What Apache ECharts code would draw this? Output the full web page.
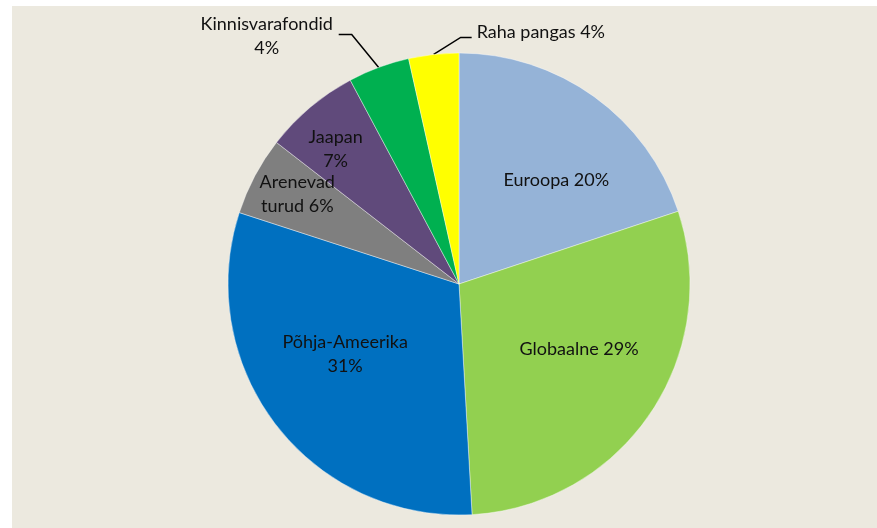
<!DOCTYPE html>
<html>
<head>
<meta charset="utf-8">
<script src="https://cdn.jsdelivr.net/npm/echarts@6/dist/echarts.min.js"></script>
<style>
  html, body { margin: 0; padding: 0; background: #ffffff; }
  #wrap { position: relative; width: 877px; height: 528px; overflow: hidden; background: #ffffff; }
  #panel { position: absolute; left: 12px; top: 6px; width: 865px; height: 522px; background: #ECE9DF; }
  #chart { position: absolute; left: 0; top: 0; width: 877px; height: 528px; }
</style>
</head>
<body>
<div id="wrap">
  <div id="panel"></div>
  <div id="chart"></div>
</div>
<script>
// Data (clockwise from 12 o'clock)
var categories = ['Euroopa', 'Globaalne', 'Põhja-Ameerika', 'Arenevad turud', 'Jaapan', 'Kinnisvarafondid', 'Raha pangas'];
var values = [19.9, 29.2, 30.9, 5.5, 6.7, 4.3, 3.5];
var shownPercent = [20, 29, 31, 6, 7, 4, 4];
var labelTexts = [
  'Euroopa 20%',
  'Globaalne 29%',
  'Põhja-Ameerika\n31%',
  'Arenevad\nturud 6%',
  'Jaapan\n7%',
  'Kinnisvarafondid\n4%',
  'Raha pangas 4%'
];
var colors = ['#95B3D7', '#92D050', '#0070C0', '#7F7F7F', '#604A7B', '#00B050', '#FFFF00'];

// label nudges (style/layout only)
var insideNudge = [[28, -8], [22, -1], [-20, -2], [-57, -34], [-47, -44]];

var chart = echarts.init(document.getElementById('chart'), null, { renderer: 'canvas' });

var data = categories.map(function (c, i) {
  var outside = i >= 5;
  return {
    name: c,
    value: values[i],
    itemStyle: { color: colors[i] },
    label: {
      show: true,
      position: outside ? 'outside' : 'inside',
      formatter: labelTexts[i]
    },
    labelLine: { show: outside }
  };
});

var option = {
  backgroundColor: 'transparent',
  animation: false,
  series: [{
    type: 'pie',
    center: [459, 284],
    radius: [0, 231],
    startAngle: 90,
    clockwise: true,
    data: data,
    itemStyle: { borderColor: 'rgba(255,255,255,0.5)', borderWidth: 0.8 },
    label: {
      color: '#111111',
      fontFamily: 'Lato',
      fontSize: 18,
      lineHeight: 24,
      align: 'center'
    },
    labelLine: {
      show: true,
      length: 20,
      length2: 12,
      smooth: false,
      lineStyle: { color: '#000000', width: 1.5 }
    },
    labelLayout: function (p) {
      var i = p.dataIndex;
      if (i < 5) {
        return { dx: insideNudge[i][0], dy: insideNudge[i][1] };
      }
      var pts = p.labelLinePoints;
      if (!pts) return {};
      var x0 = pts[0][0], y0 = pts[0][1];
      if (i === 5) {
        return {
          x: x0 - 112, y: y0 - 31, align: 'center', verticalAlign: 'middle',
          labelLinePoints: [[x0, y0], [x0 - 27, y0 - 33], [x0 - 40, y0 - 33]]
        };
      }
      return {
        x: x0 + 43, y: y0 - 22, align: 'left', verticalAlign: 'middle',
        labelLinePoints: [[x0, y0], [x0 + 27, y0 - 17], [x0 + 38, y0 - 17]]
      };
    }
  }]
};
chart.setOption(option);
</script>
</body>
</html>
